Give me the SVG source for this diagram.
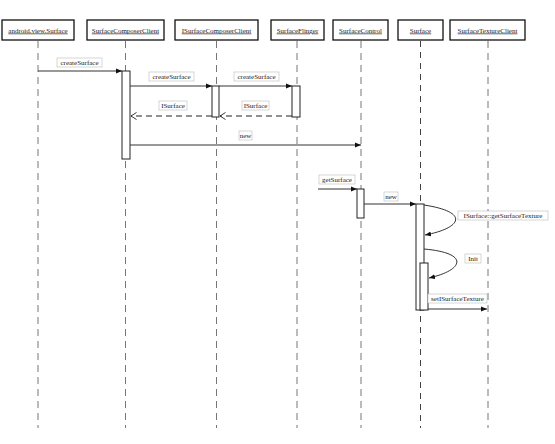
<svg xmlns="http://www.w3.org/2000/svg" width="555" height="444" viewBox="0 0 555 444">
<style>
text{font-family:"Liberation Serif",serif;font-size:7px;fill:#222}
.hb{fill:#fff;stroke:#111;stroke-width:1.3}
.ht{text-anchor:middle;text-decoration:underline}
.ll{stroke:#777;stroke-width:1;stroke-dasharray:7,5;fill:none}
.ll2{stroke:#111;stroke-width:0.8;stroke-dasharray:6,5;fill:none}
.act{fill:#fff;stroke:#222;stroke-width:1}
.msg{stroke:#333;stroke-width:1;fill:none}
.ret{stroke:#222;stroke-width:1;stroke-dasharray:6,4;fill:none}
.lb{fill:#fff;stroke:#bbb;stroke-width:0.6}
.lt{text-anchor:middle}
</style>
<defs>
<marker id="ah" markerWidth="7" markerHeight="6" refX="6" refY="3" orient="auto" markerUnits="userSpaceOnUse">
<path d="M0,0.5 L6,3 L0,5.5 Z" fill="#111"/>
</marker>
<marker id="oh" markerWidth="8" markerHeight="8" refX="6" refY="4" orient="auto" markerUnits="userSpaceOnUse">
<path d="M0.5,0.5 L6,4 L0.5,7.5" fill="none" stroke="#222" stroke-width="0.9"/>
</marker>
</defs>
<rect width="555" height="444" fill="#fff"/>
<g id="n1"><line class="ll" x1="38" y1="41" x2="38" y2="428"/><rect class="hb" x="2" y="20" width="72" height="20"/><text class="ht" x="38" y="32.5">android.view.Surface</text></g>
<g id="n2"><line class="ll" x1="125.5" y1="41" x2="125.5" y2="428"/><rect class="hb" x="87" y="20" width="77" height="20"/><text class="ht" x="125.5" y="32.5">SurfaceComposerClient</text></g>
<g id="n3"><line class="ll" x1="216.5" y1="41" x2="216.5" y2="428"/><rect class="hb" x="175" y="20" width="83" height="20"/><text class="ht" x="216.5" y="32.5">ISurfaceComposerClient</text></g>
<g id="n4"><line class="ll" x1="297" y1="41" x2="297" y2="428"/><rect class="hb" x="271" y="20" width="53" height="20"/><text class="ht" x="297.5" y="32.5">SurfaceFlinger</text></g>
<g id="n5"><line class="ll" x1="361" y1="41" x2="361" y2="428"/><rect class="hb" x="333" y="20" width="55" height="20"/><text class="ht" x="360.5" y="32.5">SurfaceControl</text></g>
<g id="n6"><line class="ll2" x1="420.5" y1="41" x2="420.5" y2="428"/><rect class="hb" x="398" y="20" width="45" height="20"/><text class="ht" x="420.5" y="32.5">Surface</text></g>
<g id="n7"><line class="ll" x1="488" y1="41" x2="488" y2="428"/><rect class="hb" x="450" y="20" width="75" height="20"/><text class="ht" x="487.5" y="32.5">SurfaceTextureClient</text></g>
<g id="activations">
<rect class="act" x="122" y="71" width="8" height="88"/>
<rect class="act" x="212" y="86" width="7" height="31"/>
<rect class="act" x="292" y="86" width="8" height="31"/>
<rect class="act" x="357" y="189" width="7" height="29"/>
<rect class="act" x="416" y="204" width="8" height="106"/>
<rect class="act" x="420" y="263" width="8" height="47"/>
</g>
<g id="connectors">
<line class="msg" x1="38" y1="71" x2="122" y2="71" marker-end="url(#ah)"/>
<line class="msg" x1="130" y1="86" x2="212" y2="86" marker-end="url(#ah)"/>
<line class="msg" x1="219" y1="86" x2="292" y2="86" marker-end="url(#ah)"/>
<line class="ret" x1="292" y1="116" x2="220" y2="116" marker-end="url(#oh)"/>
<line class="ret" x1="212" y1="116" x2="131" y2="116" marker-end="url(#oh)"/>
<line class="msg" x1="130" y1="145" x2="361" y2="145" marker-end="url(#ah)"/>
<line class="msg" x1="318" y1="189" x2="357" y2="189" marker-end="url(#ah)"/>
<line class="msg" x1="364" y1="204" x2="416" y2="204" marker-end="url(#ah)"/>
<path class="msg" d="M424,205 C470,212 462,228 425,235" marker-end="url(#ah)"/>
<path class="msg" d="M424,249 C470,253 464,270 429,278" marker-end="url(#ah)"/>
<line class="msg" x1="428" y1="309" x2="487" y2="309" marker-end="url(#ah)"/>
</g>
<g id="labels">
<rect class="lb" x="57" y="58" width="45" height="9"/><text class="lt" x="79.5" y="65">createSurface</text>
<rect class="lb" x="149" y="72" width="45" height="9"/><text class="lt" x="171.5" y="79">createSurface</text>
<rect class="lb" x="234" y="72" width="45" height="9"/><text class="lt" x="256.5" y="79">createSurface</text>
<rect class="lb" x="159" y="101" width="28" height="9"/><text class="lt" x="173" y="108">ISurface</text>
<rect class="lb" x="242" y="101" width="27" height="9"/><text class="lt" x="255.5" y="108">ISurface</text>
<rect class="lb" x="239" y="131" width="13" height="9"/><text class="lt" x="245.5" y="138">new</text>
<rect class="lb" x="319" y="175" width="36" height="9"/><text class="lt" x="337" y="182">getSurface</text>
<rect class="lb" x="384" y="192" width="14" height="9"/><text class="lt" x="391" y="199">new</text>
<rect class="lb" x="458" y="211" width="90" height="9"/><text class="lt" x="503" y="218">ISurface::getSurfaceTexture</text>
<rect class="lb" x="465" y="254" width="16" height="9"/><text class="lt" x="473" y="261">Init</text>
<rect class="lb" x="428" y="294" width="59" height="9"/><text class="lt" x="457.5" y="301">setISurfaceTexture</text>
</g>
</svg>
